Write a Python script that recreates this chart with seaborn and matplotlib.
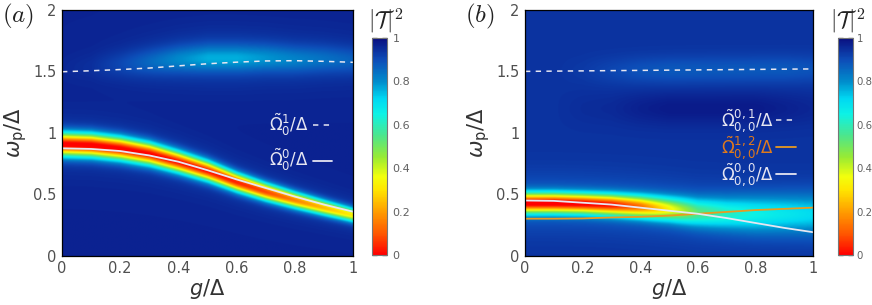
import numpy as np
import matplotlib
matplotlib.use("Agg")
import matplotlib.pyplot as plt
import seaborn as sns
from matplotlib.colors import LinearSegmentedColormap

# ---- values ----
g_vals = [0.0, 0.1, 0.2, 0.3, 0.4, 0.5, 0.6, 0.7, 0.8, 0.9, 1.0]

# panel (a): curves
omega0_a = [0.873, 0.868, 0.851, 0.815, 0.764, 0.695, 0.62, 0.55, 0.48, 0.415, 0.357]
omega1_a = [1.497, 1.505, 1.515, 1.527, 1.545, 1.562, 1.575, 1.585, 1.587, 1.582, 1.574]
# panel (a): dip of |T|^2 (center, width, minimum value)
dip_c_a = [0.908, 0.900, 0.873, 0.83, 0.764, 0.69, 0.598, 0.52, 0.452, 0.39, 0.33]
dip_w_a = [0.063, 0.063, 0.062, 0.060, 0.057, 0.054, 0.050, 0.047, 0.044, 0.041, 0.038]
dip_m_a = [0.02, 0.02, 0.03, 0.04, 0.05, 0.06, 0.08, 0.12, 0.20, 0.28, 0.36]
glow_c_a = [1.52, 1.54, 1.56, 1.58, 1.60, 1.61, 1.61, 1.61, 1.60, 1.60, 1.59]
glow_m_a = [0.96, 0.95, 0.92, 0.88, 0.84, 0.81, 0.81, 0.83, 0.85, 0.87, 0.89]
bg_a = 0.965

# panel (b): curves
omega00_b = [0.448, 0.445, 0.43, 0.415, 0.39, 0.365, 0.34, 0.305, 0.265, 0.225, 0.19]
omega12_b = [0.30, 0.30, 0.302, 0.31, 0.315, 0.325, 0.34, 0.355, 0.37, 0.38, 0.39]
omega01_b = [1.50, 1.502, 1.504, 1.506, 1.508, 1.51, 1.512, 1.514, 1.516, 1.518, 1.52]
# panel (b): dip of |T|^2
dip_c_b = [0.43, 0.43, 0.425, 0.415, 0.40, 0.38, 0.355, 0.345, 0.34, 0.34, 0.34]
dip_w_b = [0.055, 0.055, 0.055, 0.057, 0.060, 0.065, 0.075, 0.085, 0.095, 0.10, 0.105]
dip_m_b = [0.03, 0.03, 0.05, 0.08, 0.20, 0.40, 0.60, 0.68, 0.72, 0.75, 0.78]
glow_d_b = [0.0, 0.0, 0.01, 0.03, 0.05, 0.06, 0.06, 0.06, 0.06, 0.06, 0.05]
dark_d_b = [0.0, 0.0, 0.01, 0.015, 0.03, 0.04, 0.04, 0.04, 0.04, 0.03, 0.02]
bg_b = 0.94

x_ticks = [0, 0.2, 0.4, 0.6, 0.8, 1]
x_labels = ["0", "0.2", "0.4", "0.6", "0.8", "1"]
y_ticks = [0, 0.5, 1, 1.5, 2]
y_labels = ["0", "0.5", "1", "1.5", "2"]
cb_ticks = [0, 0.2, 0.4, 0.6, 0.8, 1]
cb_labels = ["0", "0.2", "0.4", "0.6", "0.8", "1"]

# colour map of the reference (red = 0 ... navy = 1)
cmap = LinearSegmentedColormap.from_list("tcmap", [
    (0.00, (1.00, 0.00, 0.00)),
    (0.10, (1.00, 0.35, 0.00)),
    (0.20, (1.00, 0.62, 0.00)),
    (0.30, (1.00, 0.90, 0.00)),
    (0.36, (0.95, 1.00, 0.05)),
    (0.45, (0.60, 0.92, 0.20)),
    (0.55, (0.30, 0.90, 0.55)),
    (0.65, (0.05, 0.95, 0.90)),
    (0.72, (0.00, 0.85, 0.95)),
    (0.80, (0.00, 0.55, 0.80)),
    (0.90, (0.05, 0.30, 0.72)),
    (1.00, (0.04, 0.06, 0.50)),
])

sns.set_theme(style="white")
plt.rcParams["font.family"] = ["DejaVu Sans"]

gg = np.linspace(0, 1, 400)
ww = np.linspace(0, 2, 600)
G, W = np.meshgrid(gg, ww)


def p(arr):
    # parameter of the model along g
    return np.interp(G, g_vals, arr)


def gauss(c, s):
    return np.exp(-0.5 * ((W - c) / s) ** 2)


field_a = np.full(G.shape, bg_a)
field_a -= (bg_a - p(dip_m_a)) * gauss(p(dip_c_a), p(dip_w_a))
field_a -= 0.04 * gauss(p(dip_c_a), 2.5 * p(dip_w_a))
field_a -= (bg_a - p(glow_m_a)) * gauss(p(glow_c_a), 0.075)
field_a -= 0.3 * (bg_a - p(glow_m_a)) * gauss(p(glow_c_a), 0.16)

field_b = np.full(G.shape, bg_b)
field_b -= (bg_b - p(dip_m_b)) * gauss(p(dip_c_b), p(dip_w_b))
field_b -= 0.07 * gauss(p(dip_c_b), 0.16)
field_b -= p(glow_d_b) * gauss(p(omega01_b), 0.08)
field_b += p(dark_d_b) * gauss(1.2, 0.1)
field_a = np.clip(field_a, 0, 1)
field_b = np.clip(field_b, 0, 1)

W_PX, H_PX = 872, 305
fig = plt.figure(figsize=(8.72, 3.05), dpi=100)


def fx(px):
    return px / W_PX


def fy(py):
    return 1 - py / H_PX


panels = [
    dict(field=field_a, ax=(62, 353), cb=372, lab="a", labx=2, cbx=386,
         cbsize=8, cbpad=4),
    dict(field=field_b, ax=(525, 813), cb=838, lab="b", labx=465, cbx=848,
         cbsize=7.3, cbpad=2.5),
]

axes = []
for pn in panels:
    l, r = pn["ax"]
    ax = fig.add_axes([fx(l), fy(255.5), fx(r - l), fy(10) - fy(255.5)])
    im = ax.imshow(pn["field"], extent=[0, 1, 0, 2], origin="lower",
                   aspect="auto", cmap=cmap, vmin=0, vmax=1,
                   interpolation="bilinear")
    ax.set_xlim(0, 1)
    ax.set_ylim(0, 2)
    ax.set_xticks(x_ticks, x_labels)
    ax.set_yticks(y_ticks, y_labels)
    ax.tick_params(length=0, labelsize=10.5, labelcolor="#505050", pad=4)
    for sp in ax.spines.values():
        sp.set_color("black")
        sp.set_linewidth(0.9)
    ax.set_xlabel(r"$g/\Delta$", fontsize=15, color="#333333", labelpad=1)
    ax.set_ylabel(r"$\omega_{\rm p}/\Delta$", fontsize=15, color="#333333",
                  labelpad=3)

    cax = fig.add_axes([fx(pn["cb"]), fy(255), fx(15), fy(38) - fy(255)])
    cb = fig.colorbar(im, cax=cax, ticks=cb_ticks)
    cb.ax.set_yticklabels(cb_labels)
    cb.outline.set_edgecolor("#777777")
    cb.outline.set_linewidth(0.8)
    cax.tick_params(direction="in", length=3.5, width=0.9, color="black",
                    left=True, right=True, labelsize=pn["cbsize"],
                    labelcolor="#606060", pad=pn["cbpad"])
    fig.text(fx(pn["cbx"]), fy(21), r"$|\mathcal{T}|^2$", fontsize=16.5,
             ha="center", va="center", math_fontfamily="cm", color="#222222")
    fig.text(fx(pn["labx"]), fy(16), r"$(%s)$" % pn["lab"], fontsize=18,
             ha="left", va="center", math_fontfamily="cm", color="#222222")
    axes.append(ax)

ax_a, ax_b = axes
wcol = "#e6e6f2"
dash = (0, (3.5, 3.5))

l1 = sns.lineplot(x=g_vals, y=omega1_a, ax=ax_a, color=wcol, lw=1.1,
                  linestyle=dash, legend=False).lines[-1]
l0 = sns.lineplot(x=g_vals, y=omega0_a, ax=ax_a, color=wcol, lw=1.3,
                  legend=False).lines[-1]
ax_a.legend([l1, l0],
            [r"$\tilde{\Omega}_0^1/\Delta$", r"$\tilde{\Omega}_0^0/\Delta$"],
            markerfirst=False, frameon=False, fontsize=12, labelcolor=wcol,
            handlelength=1.1, handletextpad=0.3, labelspacing=0.55,
            borderpad=0, loc="center right", bbox_to_anchor=(0.955, 0.46))

m1 = sns.lineplot(x=g_vals, y=omega01_b, ax=ax_b, color=wcol, lw=1.1,
                  linestyle=dash, legend=False).lines[-1]
m2 = sns.lineplot(x=g_vals, y=omega12_b, ax=ax_b, color="#e89a20", lw=1.3,
                  legend=False).lines[-1]
m0 = sns.lineplot(x=g_vals, y=omega00_b, ax=ax_b, color=wcol, lw=1.3,
                  legend=False).lines[-1]
ax_b.legend([m1, m2, m0],
            [r"$\tilde{\Omega}_{0,0}^{0,1}/\Delta$",
             r"$\tilde{\Omega}_{0,0}^{1,2}/\Delta$",
             r"$\tilde{\Omega}_{0,0}^{0,0}/\Delta$"],
            markerfirst=False, frameon=False, fontsize=12,
            labelcolor=[wcol, "#e07a1c", wcol], handlelength=1.2,
            handletextpad=0.1, labelspacing=0.02, borderpad=0,
            loc="center right", bbox_to_anchor=(0.97, 0.44))

fig.savefig("out.png", dpi=100)
